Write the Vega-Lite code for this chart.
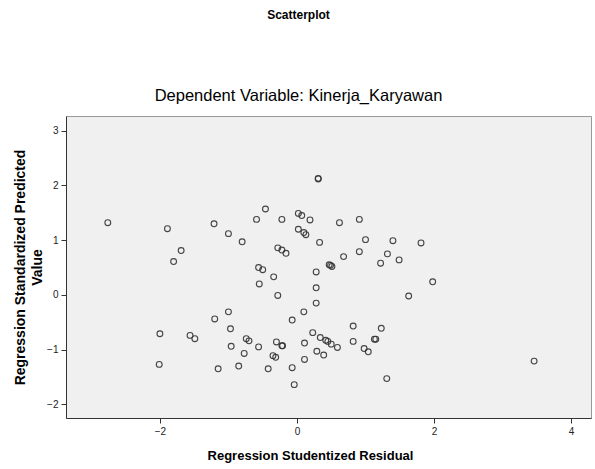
{
  "$schema": "https://vega.github.io/schema/vega-lite/v6.json",
  "width": 525,
  "height": 302,
  "autosize": "none",
  "padding": {"left": 66, "top": 116, "right": 4, "bottom": 51},
  "background": "white",
  "title": {
    "text": "Scatterplot",
    "subtitle": "Dependent Variable: Kinerja_Karyawan",
    "anchor": "middle",
    "frame": "group",
    "dx": -30,
    "offset": 11,
    "subtitlePadding": 66,
    "font": "Liberation Sans",
    "fontSize": 12,
    "fontWeight": "bold",
    "color": "#000000",
    "subtitleFont": "Liberation Sans",
    "subtitleFontSize": 16.5,
    "subtitleColor": "#000000"
  },
  "config": {
    "view": {"fill": "#f0f0f0", "stroke": "#999999", "strokeWidth": 1},
    "axis": {
      "grid": false,
      "domainColor": "#333333",
      "tickColor": "#333333",
      "tickSize": 5,
      "labelFont": "Liberation Sans",
      "labelFontSize": 10,
      "labelColor": "#222222",
      "titleFont": "Liberation Sans",
      "titleFontSize": 13,
      "titleFontWeight": "bold",
      "titleColor": "#000000"
    }
  },
  "data": {
    "values": [
      {"x": -2.76, "y": 1.32}, {"x": -1.89, "y": 1.21}, {"x": -1.69, "y": 0.81}, {"x": -1.80, "y": 0.61},
      {"x": -2.00, "y": -0.71}, {"x": -2.01, "y": -1.27}, {"x": -1.56, "y": -0.74}, {"x": -1.49, "y": -0.80},
      {"x": -1.21, "y": 1.30}, {"x": -1.00, "y": 1.12}, {"x": -0.80, "y": 0.97}, {"x": -0.59, "y": 1.38},
      {"x": -0.46, "y": 1.57}, {"x": -0.22, "y": 1.38}, {"x": 0.02, "y": 1.49}, {"x": 0.07, "y": 1.45},
      {"x": 0.19, "y": 1.37}, {"x": 0.31, "y": 2.13}, {"x": 0.31, "y": 2.12}, {"x": 0.02, "y": 1.20},
      {"x": 0.10, "y": 1.14}, {"x": 0.13, "y": 1.10}, {"x": 0.33, "y": 0.96}, {"x": 0.62, "y": 1.32},
      {"x": 0.91, "y": 1.38}, {"x": 1.00, "y": 1.01}, {"x": 1.40, "y": 0.99}, {"x": 1.81, "y": 0.95},
      {"x": 0.91, "y": 0.79}, {"x": 1.32, "y": 0.75}, {"x": 0.68, "y": 0.70}, {"x": -0.28, "y": 0.86},
      {"x": -0.22, "y": 0.82}, {"x": -0.16, "y": 0.76}, {"x": 0.47, "y": 0.55}, {"x": 0.51, "y": 0.52},
      {"x": 0.49, "y": 0.54}, {"x": -0.56, "y": 0.50}, {"x": -0.50, "y": 0.46}, {"x": -0.34, "y": 0.33},
      {"x": 0.28, "y": 0.42}, {"x": -0.55, "y": 0.20}, {"x": 0.28, "y": 0.13}, {"x": -0.28, "y": -0.01},
      {"x": 0.28, "y": -0.15}, {"x": 1.22, "y": 0.58}, {"x": 1.49, "y": 0.64}, {"x": 1.98, "y": 0.24},
      {"x": 1.63, "y": -0.02}, {"x": 0.10, "y": -0.31}, {"x": -0.07, "y": -0.46}, {"x": -1.00, "y": -0.31},
      {"x": -1.20, "y": -0.44}, {"x": -0.97, "y": -0.62}, {"x": 0.23, "y": -0.69}, {"x": 0.82, "y": -0.57},
      {"x": 1.23, "y": -0.61}, {"x": 0.34, "y": -0.78}, {"x": 0.42, "y": -0.83}, {"x": 0.45, "y": -0.85},
      {"x": 0.50, "y": -0.90}, {"x": 0.59, "y": -0.96}, {"x": 0.82, "y": -0.85}, {"x": 1.13, "y": -0.81},
      {"x": 1.15, "y": -0.81}, {"x": 0.98, "y": -0.98}, {"x": 1.04, "y": -1.04}, {"x": -0.74, "y": -0.80},
      {"x": -0.70, "y": -0.84}, {"x": -0.96, "y": -0.94}, {"x": -0.56, "y": -0.95}, {"x": -0.30, "y": -0.86},
      {"x": -0.22, "y": -0.93}, {"x": -0.21, "y": -0.93}, {"x": 0.11, "y": -0.88}, {"x": -0.77, "y": -1.07},
      {"x": -0.35, "y": -1.11}, {"x": -0.31, "y": -1.14}, {"x": 0.29, "y": -1.03}, {"x": 0.39, "y": -1.10},
      {"x": 0.11, "y": -1.18}, {"x": -0.07, "y": -1.33}, {"x": -0.42, "y": -1.35}, {"x": -0.85, "y": -1.30},
      {"x": -1.15, "y": -1.35}, {"x": -0.04, "y": -1.64}, {"x": 1.31, "y": -1.53}, {"x": 3.46, "y": -1.21}
    ]
  },
  "mark": {"type": "point", "shape": "circle", "filled": false, "size": 34, "stroke": "#333333", "strokeWidth": 1.1, "opacity": 0.9},
  "encoding": {
    "x": {
      "field": "x", "type": "quantitative",
      "scale": {"domain": [-3.37, 4.29], "nice": false, "zero": false},
      "axis": {"values": [-2, 0, 2, 4], "title": "Regression Studentized Residual", "titlePadding": 13, "labelPadding": 3, "titleX": 244}
    },
    "y": {
      "field": "y", "type": "quantitative",
      "scale": {"domain": [-2.25, 3.27], "nice": false, "zero": false},
      "axis": {"values": [-2, -1, 0, 1, 2, 3], "title": ["Regression Standardized Predicted", "Value"], "titleFontSize": 14, "titlePadding": 2, "titleLineHeight": 17, "labelPadding": 3}
    }
  }
}
